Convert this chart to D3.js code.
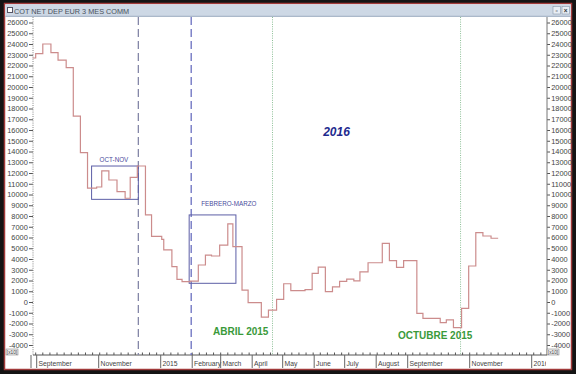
<!DOCTYPE html>
<html>
<head>
<meta charset="utf-8">
<script src="https://cdn.jsdelivr.net/npm/d3@7"></script>
<style>
  body { margin: 0; background: #111; }
  svg { display: block; font-family: "Liberation Sans", Arial, sans-serif; }
</style>
</head>
<body>
<div id="chart"></div>
<script>
// weekly COT net position (step start dates)
const stepDates = ["2014-08-28","2014-08-31","2014-09-07","2014-09-15","2014-09-22","2014-09-30",
  "2014-10-07","2014-10-14","2014-10-21","2014-10-30","2014-11-04","2014-11-11","2014-11-19",
  "2014-11-27","2014-12-02","2014-12-09","2014-12-17","2014-12-23","2015-01-02","2015-01-04",
  "2015-01-12","2015-01-17","2015-01-22","2015-01-30","2015-02-07","2015-02-14","2015-02-20",
  "2015-02-28","2015-03-08","2015-03-13","2015-03-22","2015-03-28","2015-04-10","2015-04-17",
  "2015-04-25","2015-05-02","2015-05-09","2015-05-23","2015-05-30","2015-06-05","2015-06-12",
  "2015-06-19","2015-06-26","2015-07-03","2015-07-10","2015-07-16","2015-07-24","2015-08-07",
  "2015-08-14","2015-08-21","2015-08-28","2015-09-10","2015-09-16","2015-10-03","2015-10-09",
  "2015-10-16","2015-10-24","2015-10-31","2015-11-07","2015-11-14","2015-11-22","2015-11-29"];
const stepValues = [22700,23100,24000,23200,22500,21800,
  17300,13900,10600,10700,12200,11350,10260,
  9650,11600,12650,8100,6100,5830,4840,
  3300,2100,1890,1950,3440,4370,4280,
  5300,7260,5150,1100,-60,-1400,-750,
  250,1700,1050,1150,2670,3250,960,
  1400,1920,2120,1970,2800,3650,5460,
  3840,3230,3840,-1050,-1520,-1920,-1670,
  -2390,-590,3350,6450,6140,5930,5930];

const yTicks = d3.range(-4000, 26001, 1000);
const monthTicks = ["2014-09-01","2014-11-01","2015-01-01","2015-02-01","2015-03-01","2015-04-01",
  "2015-05-01","2015-06-01","2015-07-01","2015-08-01","2015-09-01","2015-11-01","2016-01-01"];
const monthLabels = ["September","November","2015","February","March","April",
  "May","June","July","August","September","November","2016"];

// vertical markers: dashed (bounds of the boxes) and dotted (text notes)
const dashedDates = ["2014-12-10","2015-01-31"];
const dottedDates = ["2015-04-21","2015-10-23"];

// annotation boxes
const boxes = [
  {label: "OCT-NOV", from: "2014-10-25", to: "2014-12-10", low: 9550, high: 12650},
  {label: "FEBRERO-MARZO", from: "2015-01-29", to: "2015-03-16", low: 1740, high: 8100}
];

const parse = d3.timeParse("%Y-%m-%d");
const data = stepDates.map((d, i) => ({date: parse(d), value: stepValues[i]}));

const W = 576, H = 374;
const pLeft = 33, pRight = 546, pTop = 17, pBottom = 355;

const x = d3.scaleTime()
  .domain([parse("2014-09-01"), parse("2016-01-01")])
  .range([36.7, 531.7]);
const y = d3.scaleLinear().domain([-4930, 26512]).range([pBottom, pTop]);

const svg = d3.select("#chart").append("svg").attr("width", W).attr("height", H);

// window frame
svg.append("rect").attr("width", W).attr("height", H).attr("fill", "#141414");
svg.append("rect").attr("x", 4.5).attr("y", 3.5).attr("width", 567).attr("height", 366)
  .attr("fill", "#fff").attr("stroke", "#a13a3a").attr("stroke-width", 1.5);

// title bar
svg.append("rect").attr("x", 5.3).attr("y", 4.3).attr("width", 565.4).attr("height", 12)
  .attr("fill", "#cdd8e5");
svg.append("line").attr("x1", 5.3).attr("x2", 570.7).attr("y1", 16.3).attr("y2", 16.3)
  .attr("stroke", "#9aabbf");
svg.append("rect").attr("x", 7.5).attr("y", 7.5).attr("width", 5).attr("height", 5)
  .attr("fill", "#fff").attr("stroke", "#556");
svg.append("text").attr("x", 14).attr("y", 13.5).attr("font-size", 7.3).attr("fill", "#4a505c")
  .text("COT NET DEP EUR 3 MES COMM");
[553, 562].forEach((bx, i) => {
  svg.append("rect").attr("x", bx).attr("y", 6.5).attr("width", 7.5).attr("height", 7.5)
    .attr("fill", "#e8eef5").attr("stroke", "#8896a8").attr("stroke-width", 0.6);
  svg.append("text").attr("x", bx + 3.75).attr("y", 12.6).attr("text-anchor", "middle")
    .attr("font-size", 6.5).attr("font-weight", "bold").attr("fill", "#333")
    .text(i === 0 ? "▫" : "×");
});

// y axes
const fmt = d => String(d);
const yl = svg.append("g").attr("transform", `translate(${pLeft},0)`)
  .call(d3.axisLeft(y).tickValues(yTicks).tickSize(4).tickPadding(1.2).tickFormat(fmt));
const yr = svg.append("g").attr("transform", `translate(${pRight + 1},0)`)
  .call(d3.axisRight(y).tickValues(yTicks).tickSize(3).tickPadding(1.2).tickFormat(fmt));
[yl, yr].forEach(g => {
  g.selectAll("text").attr("font-size", 7.4).attr("fill", "#444");
  g.selectAll("line").attr("stroke", "#555");
  g.select(".domain").remove();
});
svg.append("line").attr("x1", pLeft).attr("x2", pLeft).attr("y1", pTop).attr("y2", pBottom)
  .attr("stroke", "#888").attr("stroke-dasharray", "1,1.2");
svg.append("line").attr("x1", pRight + 1).attr("x2", pRight + 1).attr("y1", pTop).attr("y2", pBottom)
  .attr("stroke", "#777");

// [x10] tags
[[6, 349], [pRight + 1, 349]].forEach(p => {
  svg.append("rect").attr("x", p[0]).attr("y", p[1]).attr("width", 12).attr("height", 6)
    .attr("fill", "#eee").attr("stroke", "#777").attr("stroke-width", 0.5);
  svg.append("text").attr("x", p[0] + 6).attr("y", p[1] + 5).attr("text-anchor", "middle")
    .attr("font-size", 4.8).attr("fill", "#444").text("[x10]");
});

// x axis
svg.append("line").attr("x1", pLeft).attr("x2", pRight + 1).attr("y1", pBottom).attr("y2", pBottom)
  .attr("stroke", "#555");
svg.append("g").selectAll("line")
  .data(d3.timeWeek.range(parse("2014-08-31"), parse("2016-01-14")))
  .join("line")
  .attr("x1", d => x(d)).attr("x2", d => x(d))
  .attr("y1", pBottom - 2.5).attr("y2", pBottom)
  .attr("stroke", "#555");
svg.append("line").attr("x1", 31).attr("x2", 31).attr("y1", pBottom).attr("y2", 368)
  .attr("stroke", "#666");

svg.append("clipPath").attr("id", "xclip").append("rect")
  .attr("x", pLeft).attr("y", pBottom).attr("width", pRight - pLeft).attr("height", 14);
const xg = svg.append("g").attr("clip-path", "url(#xclip)");
const months = xg.selectAll("g").data(monthTicks).join("g")
  .attr("transform", d => `translate(${x(parse(d))},0)`);
months.append("line").attr("y1", pBottom).attr("y2", 368).attr("stroke", "#666");
months.append("text").attr("x", 1.8).attr("y", 365.5).attr("font-size", 6.8).attr("fill", "#444")
  .text((d, i) => monthLabels[i]);

// vertical markers
svg.append("g").selectAll("line").data(dashedDates).join("line")
  .attr("x1", d => x(parse(d))).attr("x2", d => x(parse(d)))
  .attr("y1", pTop).attr("y2", pBottom)
  .attr("stroke", (d, i) => i === 0 ? "#8587a8" : "#6a6fc0")
  .attr("stroke-width", 1.3).attr("stroke-dasharray", "8,4");
svg.append("g").selectAll("line").data(dottedDates).join("line")
  .attr("x1", d => x(parse(d))).attr("x2", d => x(parse(d)))
  .attr("y1", pTop).attr("y2", pBottom)
  .attr("stroke", "#8cbf96").attr("stroke-width", 1).attr("stroke-dasharray", "1,1.3");

// boxes
const bx = svg.append("g").selectAll("g").data(boxes).join("g");
bx.append("rect")
  .attr("x", d => x(parse(d.from))).attr("y", d => y(d.high))
  .attr("width", d => x(parse(d.to)) - x(parse(d.from)))
  .attr("height", d => y(d.low) - y(d.high))
  .attr("fill", "none").attr("stroke", "#5c5ea6").attr("stroke-width", 1);

// price line
const line = d3.line().curve(d3.curveStepAfter)
  .x(d => x(d.date)).y(d => y(d.value));
svg.append("path").datum(data).attr("d", line)
  .attr("fill", "none").attr("stroke", "#cc8c8c").attr("stroke-width", 1.2);

// notes
svg.append("text").attr("x", x(parse("2014-11-16"))).attr("y", y(13000))
  .attr("text-anchor", "middle").attr("font-size", 6.3).attr("fill", "#4a4c9c").text("OCT-NOV");
svg.append("text").attr("x", x(parse("2015-03-09"))).attr("y", y(8900))
  .attr("text-anchor", "middle").attr("font-size", 6.3).attr("fill", "#4a4c9c").text("FEBRERO-MARZO");
svg.append("text").attr("x", x(parse("2015-06-23"))).attr("y", y(15450))
  .attr("text-anchor", "middle").attr("font-size", 12).attr("font-weight", "bold")
  .attr("font-style", "italic").attr("fill", "#1e2a8e").text("2016");
svg.append("text").attr("x", x(parse("2015-04-17"))).attr("y", y(-3070))
  .attr("text-anchor", "end").attr("font-size", 10).attr("font-weight", "bold")
  .attr("fill", "#3a9a3a").text("ABRIL 2015");
svg.append("text").attr("x", x(parse("2015-09-28"))).attr("y", y(-3440))
  .attr("text-anchor", "middle").attr("font-size", 10).attr("font-weight", "bold")
  .attr("fill", "#3a9a3a").text("OCTUBRE 2015");
</script>
</body>
</html>
